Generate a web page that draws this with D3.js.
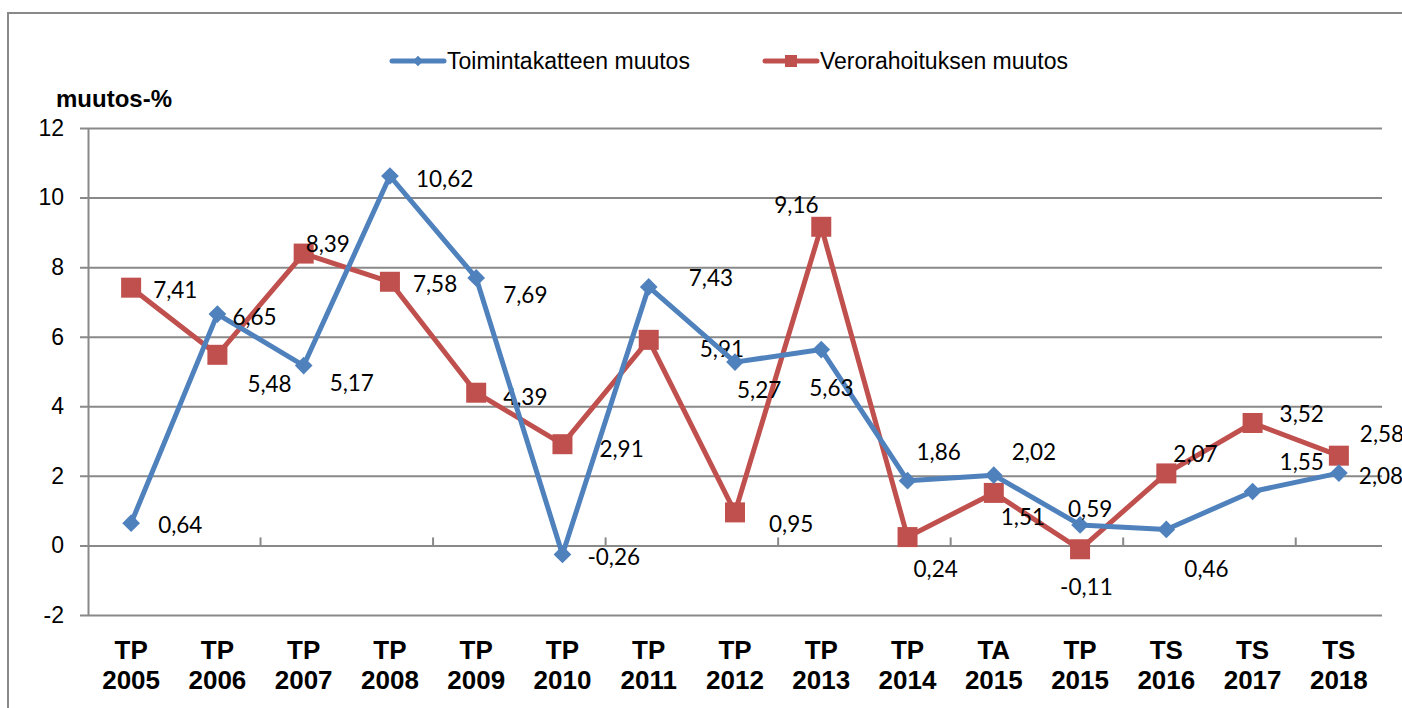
<!DOCTYPE html>
<html>
<head>
<meta charset="utf-8">
<script src="https://cdn.jsdelivr.net/npm/d3@7"></script>
<style>
  body { margin: 0; background: #fff; }
  svg text { font-family: "Liberation Sans", Arial, sans-serif; }
</style>
</head>
<body>
<div id="chart"></div>
<script>
// data
const categories = ["TP 2005", "TP 2006", "TP 2007", "TP 2008", "TP 2009", "TP 2010", "TP 2011",
    "TP 2012", "TP 2013", "TP 2014", "TA 2015", "TP 2015", "TS 2016", "TS 2017", "TS 2018"];
const toimintakate = [0.64, 6.65, 5.17, 10.62, 7.69, -0.26, 7.43, 5.27, 5.63, 1.86, 2.02, 0.59, 0.46, 1.55, 2.08];
const verorahoitus = [7.41, 5.48, 8.39, 7.58, 4.39, 2.91, 5.91, 0.95, 9.16, 0.24, 1.51, -0.11, 2.07, 3.52, 2.58];
const yTicks = [-2, 0, 2, 4, 6, 8, 10, 12];

// label offsets (dx, dy from point) - placed by hand like in the original
const blueLabelOffsets = [[27, 1], [15, 2], [26, 17], [26, 2], [27, 17], [25, 2], [40, -9], [2, 27],
    [-12, 38], [9, -29], [18, -24], [-12, -16], [18, 39], [27, -30], [20, 2]];
const redLabelOffsets = [[22, 2], [30, 29], [2, -10], [23, 2], [27, 4], [37, 4], [51, 9], [34, 11],
    [-47, -22], [6, 31], [7, 24], [-20, 37], [7, -20], [27, -9], [21, -22]];

const WIDTH = 1402, HEIGHT = 708;
const PLOT = { LEFT: 88, RIGHT: 1382, TOP: 128, BOTTOM: 615 };
const BLUE = "#4F81BD", RED = "#C0504D", GRID = "#898989";

const svg = d3.select("#chart").append("svg")
    .attr("width", WIDTH)
    .attr("height", HEIGHT);

// outer frame
svg.append("rect")
    .attr("x", 8).attr("y", 13)
    .attr("width", 1400).attr("height", 710)
    .attr("fill", "none")
    .attr("stroke", GRID)
    .attr("stroke-width", 2);

const x = d3.scaleBand()
    .domain(categories)
    .range([PLOT.LEFT, PLOT.RIGHT])
    .padding(0);

const y = d3.scaleLinear()
    .domain([-2, 12])
    .range([PLOT.BOTTOM, PLOT.TOP]);

const cx = d => x(d) + x.bandwidth() / 2;

// horizontal grid
const yAxis = d3.axisLeft(y)
    .tickValues(yTicks)
    .tickSize(-(PLOT.RIGHT - PLOT.LEFT))
    .tickSizeOuter(0)
    .tickFormat(d => String(d))
    .tickPadding(24);

const gy = svg.append("g")
    .attr("transform", `translate(${PLOT.LEFT},0)`)
    .call(yAxis);
gy.select(".domain").attr("stroke", GRID).attr("stroke-width", 2);
gy.selectAll(".tick line")
    .attr("x1", -8)
    .attr("stroke", GRID)
    .attr("stroke-width", 2);
gy.selectAll(".tick text")
    .attr("font-size", "23px")
    .attr("fill", "#000")
    .attr("font-family", "Liberation Sans, Arial, sans-serif");

// tick marks on zero line, every second category
const tickCats = categories.filter((d, i) => i % 2 === 0 && i > 0);
svg.append("g").selectAll("line")
    .data(tickCats)
    .enter().append("line")
    .attr("x1", d => x(d))
    .attr("x2", d => x(d))
    .attr("y1", y(0))
    .attr("y2", y(0) - 8)
    .attr("stroke", GRID)
    .attr("stroke-width", 2);

// category labels
const catG = svg.append("g");
categories.forEach(c => {
    const parts = c.split(" ");
    const t = catG.append("text")
        .attr("x", cx(c))
        .attr("y", 659)
        .attr("text-anchor", "middle")
        .attr("font-size", "26px")
        .attr("font-weight", "bold")
        .attr("fill", "#000");
    t.append("tspan").attr("x", cx(c)).attr("dy", 0).text(parts[0]);
    t.append("tspan").attr("x", cx(c)).attr("dy", 30).text(parts[1]);
});

// y axis title
svg.append("text")
    .attr("x", 56)
    .attr("y", 107)
    .attr("font-size", "24px")
    .attr("font-weight", "bold")
    .text("muutos-%");

const line = d3.line()
    .x((d, i) => cx(categories[i]))
    .y(d => y(d));

function drawSeries(values, color, marker, offsets) {
    svg.append("path")
        .datum(values)
        .attr("d", line)
        .attr("fill", "none")
        .attr("stroke", color)
        .attr("stroke-width", 5)
        .attr("stroke-linejoin", "round");

    const g = svg.append("g");
    if (marker === "diamond") {
        g.selectAll("path")
            .data(values)
            .enter().append("path")
            .attr("d", d3.symbol().type(d3.symbolDiamond2).size(200))
            .attr("transform", (d, i) => `translate(${cx(categories[i])},${y(d)})`)
            .attr("fill", color);
    } else {
        g.selectAll("rect")
            .data(values)
            .enter().append("rect")
            .attr("x", (d, i) => cx(categories[i]) - 10)
            .attr("y", d => y(d) - 10)
            .attr("width", 20)
            .attr("height", 20)
            .attr("fill", color);
    }

    svg.append("g").selectAll("text")
        .data(values)
        .enter().append("text")
        .attr("x", (d, i) => cx(categories[i]) + offsets[i][0])
        .attr("y", (d, i) => y(d) + offsets[i][1])
        .attr("dominant-baseline", "central")
        .attr("font-size", "22.5px")
        .attr("fill", "#000")
        .style("font-family", "Lato, 'Open Sans', sans-serif")
        .text(d => d3.format(".2f")(d).replace(".", ",").replace("−", "-"));
}

drawSeries(verorahoitus, RED, "square", redLabelOffsets);
drawSeries(toimintakate, BLUE, "diamond", blueLabelOffsets);

// legend
const legend = [
    { name: "Toimintakatteen muutos", color: BLUE, marker: "diamond", x: 390 },
    { name: "Verorahoituksen muutos", color: RED, marker: "square", x: 763 }
];
legend.forEach(l => {
    const g = svg.append("g").attr("transform", `translate(${l.x},61)`);
    g.append("line")
        .attr("x1", 2).attr("x2", 54)
        .attr("stroke", l.color)
        .attr("stroke-width", 5)
        .attr("stroke-linecap", "round");
    if (l.marker === "diamond") {
        g.append("path")
            .attr("d", d3.symbol().type(d3.symbolDiamond2).size(70))
            .attr("transform", "translate(28,0)")
            .attr("fill", l.color);
    } else {
        g.append("rect")
            .attr("x", 22).attr("y", -6)
            .attr("width", 12).attr("height", 12)
            .attr("fill", l.color);
    }
    g.append("text")
        .attr("x", 57)
        .attr("y", 0)
        .attr("dominant-baseline", "central")
        .attr("font-size", "23px")
        .attr("fill", "#000")
        .text(l.name);
});
</script>
</body>
</html>
